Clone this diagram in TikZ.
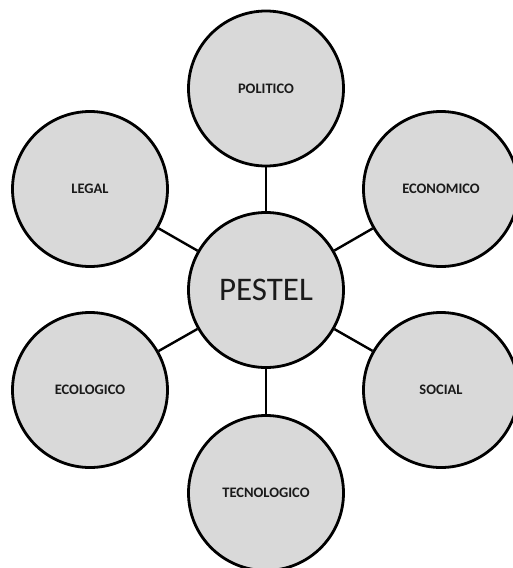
\documentclass[tikz,border=0pt]{standalone}
\usepackage{fontspec}
\setmainfont{Carlito}
\definecolor{circfill}{HTML}{D9D9D9}
\definecolor{txt}{HTML}{1A1A1A}
\begin{document}
\begin{tikzpicture}[x=1pt,y=-1pt,
  bubble/.style={circle,draw=black,fill=circfill,line width=2.8pt,minimum size=155pt,inner sep=0pt,text=txt,font=\fontsize{14.5}{16}\selectfont\bfseries},
  hub/.style={bubble,font=\fontsize{33}{36}\selectfont},
  link/.style={draw=black,line width=2.4pt}]
\useasboundingbox[fill=white] (0,0) rectangle (512,568);
\node[hub] (pestel) at (266,290) {PESTEL};
\node[bubble] (politico) at (266,88.5) {POLITICO};
\node[bubble] (legal) at (90,189) {LEGAL};
\node[bubble] (economico) at (441,189) {ECONOMICO};
\node[bubble] (ecologico) at (90,390) {ECOLOGICO};
\node[bubble] (social) at (441,390) {SOCIAL};
\node[bubble] (tecnologico) at (266,493) {TECNOLOGICO};
\foreach \n in {politico,legal,economico,ecologico,social,tecnologico}
  \draw[link] (pestel) -- (\n);
\end{tikzpicture}
\end{document}
